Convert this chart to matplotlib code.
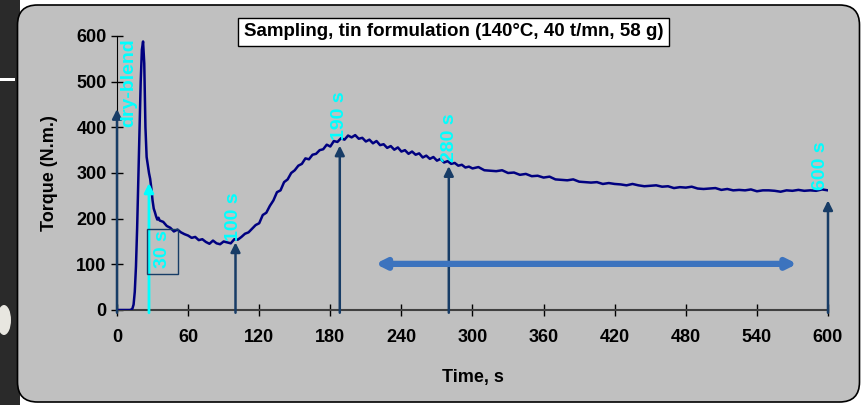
import matplotlib
matplotlib.use('Agg')
import matplotlib.pyplot as plt
from matplotlib.patches import FancyBboxPatch, Rectangle, Ellipse

plt.rcParams['font.family'] = ['Liberation Sans', 'DejaVu Sans']
plt.rcParams['font.weight'] = 'bold'

# torque recording (s, N.m.)
time = list(range(0, 37)) + list(range(39, 300, 3)) + list(range(300, 601, 5))
torque = [0, 0, 0, 0, 0, 0, 0, 0, 0, 0, 0, 0, 1, 3, 12, 40, 95, 180, 290, 400,
          500, 570, 588, 540, 400, 335, 318, 300, 287, 266, 240, 222, 214, 205, 198, 202, 196,
          # 39 .. 297 every 3 s
          193, 184, 180, 172, 176, 170, 166, 163, 158, 160, 153, 155, 149, 145, 152, 146,
          144, 150, 148, 146, 155, 154, 160, 167, 170, 178, 186, 190, 208, 213, 228, 240,
          258, 262, 280, 286, 300, 306, 316, 320, 332, 330, 340, 342, 350, 352, 362, 358,
          370, 368, 376, 373, 382, 378, 383, 375, 377, 369, 373, 365, 370, 361, 363, 355,
          359, 351, 356, 347, 350, 342, 347, 340, 343, 334, 338, 331, 335, 327, 331, 323,
          326, 320, 322, 316, 318, 312, 314,
          # 300 .. 600 every 5 s
          310, 313, 306, 305, 304, 306, 300, 301, 296, 298, 293, 294, 290, 292, 286, 285,
          284, 286, 281, 280, 279, 280, 276, 278, 276, 275, 273, 276, 273, 271, 272, 273,
          270, 271, 267, 269, 268, 270, 266, 265, 266, 267, 263, 265, 262, 263, 262, 264,
          260, 262, 262, 261, 259, 262, 261, 263, 261, 262, 261, 264, 262]

# sampling arrows: time, arrow tip, label, label start
sample_t = [0, 100, 188, 280, 600]
sample_tip = [440, 148, 360, 315, 240]
label_txt = ['dry-blend', '100 s', '190 s', '280 s', '600 s']
label_t = [10, 98, 188, 281, 594]
label_y = [401, 152, 372, 325, 263]

x_ticks = list(range(0, 601, 60))
y_ticks = list(range(0, 601, 100))

navy = '#173C66'
cyan = '#00FFFF'

fig = plt.figure(figsize=(8.64, 4.05), dpi=100)
fig.patch.set_facecolor('white')

# background of the slide photo
fig.patches.append(Rectangle((0, 0), 0.2, 4.05, transform=fig.dpi_scale_trans,
                             facecolor='#2a2a2a', edgecolor='none', zorder=-20))
fig.patches.append(Ellipse((0.04, 0.85), 0.14, 0.3, transform=fig.dpi_scale_trans,
                           facecolor='#e8e6e0', edgecolor='none', zorder=-19))
fig.patches.append(Rectangle((0, 3.24), 0.15, 0.03, transform=fig.dpi_scale_trans,
                             facecolor='white', edgecolor='none', zorder=-19))
fig.patches.append(FancyBboxPatch((0.175, 0.03), 8.42, 3.97,
                                  boxstyle='round,pad=0,rounding_size=0.2',
                                  transform=fig.dpi_scale_trans,
                                  facecolor='#C0C0C0', edgecolor='black', lw=1.2, zorder=-10))

ax = fig.add_axes([117 / 864, 1 - 310 / 405, 711 / 864, 274 / 405])
ax.patch.set_visible(False)

ax.plot(time, torque, color='#000080', lw=1.8, zorder=3)

for t, tip in zip(sample_t, sample_tip):
    ax.annotate('', xy=(t, tip), xytext=(t, -6), annotation_clip=False,
                arrowprops=dict(arrowstyle='-|>', color=navy, lw=1.8,
                                mutation_scale=14, shrinkA=0, shrinkB=0), zorder=4)

# 30 s sample (cyan)
ax.annotate('', xy=(27, 278), xytext=(27, -6), annotation_clip=False,
            arrowprops=dict(arrowstyle='-|>', color=cyan, lw=2,
                            mutation_scale=14, shrinkA=0, shrinkB=0), zorder=4)
ax.add_patch(Rectangle((25.3, 79), 26.2, 99, fill=False, edgecolor=navy, lw=1, zorder=4))
ax.text(38, 92, '30 s', rotation=90, color=cyan, fontsize=14, fontweight='bold',
        ha='center', va='bottom', zorder=5)

for txt, t, y in zip(label_txt, label_t, label_y):
    ax.text(t, y, txt, rotation=90, color=cyan, fontsize=14, fontweight='bold',
            ha='center', va='bottom', zorder=5)

# plateau range
ax.annotate('', xy=(574, 101), xytext=(218, 101),
            arrowprops=dict(arrowstyle='<|-|>', color='#3C73BE', lw=4.5,
                            mutation_scale=14, shrinkA=0, shrinkB=0), zorder=4)

ax.set_xlim(0, 600)
ax.set_ylim(0, 600)
ax.set_xticks(x_ticks)
ax.set_yticks(y_ticks)
ax.spines['top'].set_visible(False)
ax.spines['right'].set_visible(False)
ax.spines['left'].set_color('black')
ax.spines['bottom'].set_color('#404040')
ax.spines['bottom'].set_linewidth(1.5)
ax.tick_params(direction='inout', length=9, width=1, labelsize=13)
ax.tick_params(axis='x', pad=9)
ax.tick_params(axis='y', pad=3)
ax.set_xlabel('Time, s', fontsize=13, fontweight='bold', labelpad=17)
ax.set_ylabel('Torque (N.m.)', fontsize=13, fontweight='bold', labelpad=13)

fig.text(0.525, 0.921, 'Sampling, tin formulation (140°C, 40 t/mn, 58 g)',
         ha='center', va='center', fontsize=13.5, fontweight='bold',
         bbox=dict(facecolor='white', edgecolor='black', lw=1, boxstyle='square,pad=0.3'))

fig.savefig('out.png', dpi=100)
